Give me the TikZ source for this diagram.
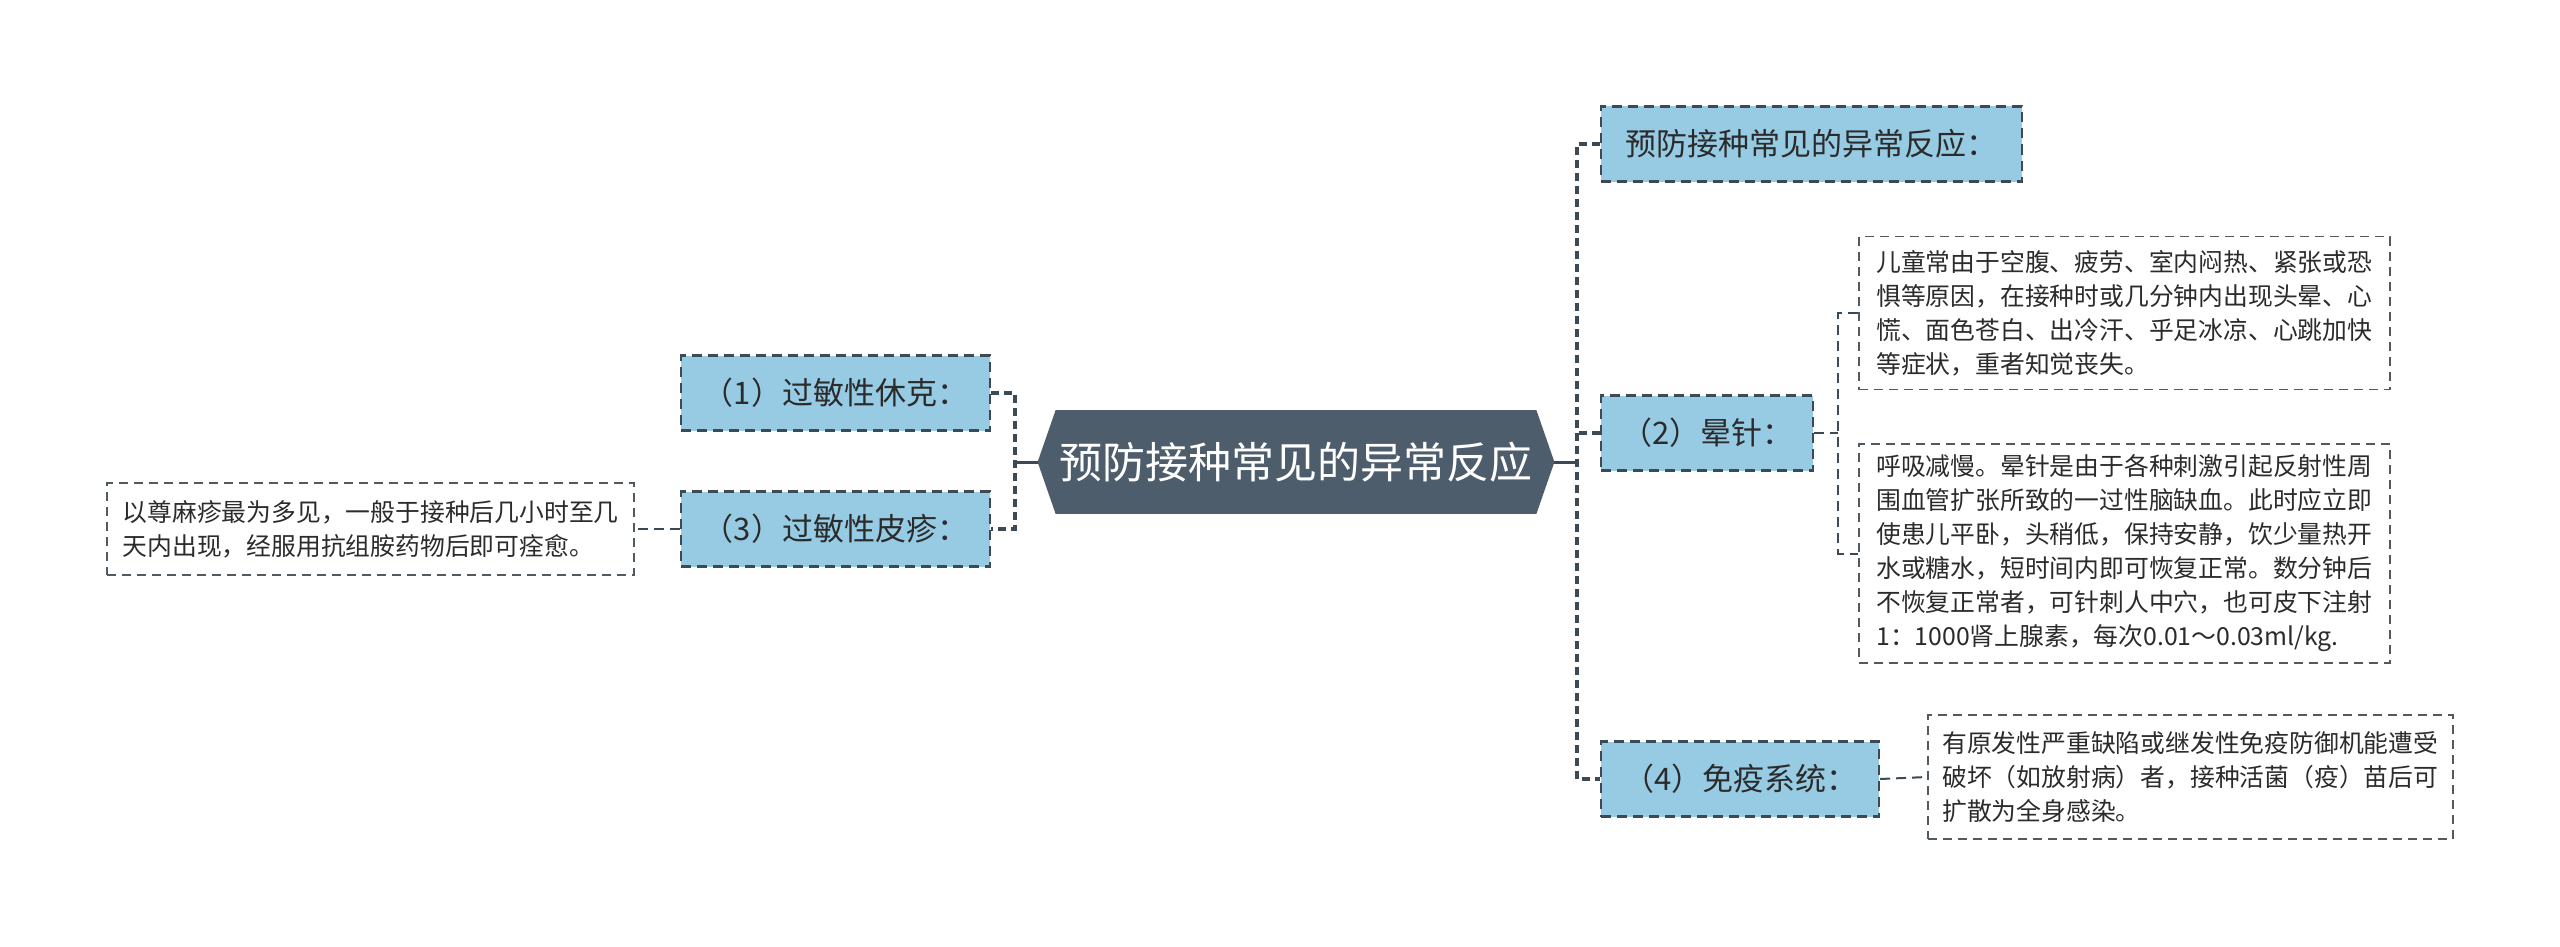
\documentclass[tikz,border=0pt]{standalone}
\usepackage{fontspec}
\setmainfont{Noto Sans CJK SC}
\usetikzlibrary{calc,backgrounds}
\definecolor{hexfill}{HTML}{4D5D6B}
\definecolor{boxfill}{HTML}{96CBE3}
\definecolor{edgec}{HTML}{3C4A56}
\definecolor{leafedge}{HTML}{505A63}
\definecolor{txt}{HTML}{2B2B2B}
\begin{document}
\begin{tikzpicture}[x=0.5pt,y=-0.5pt,
 mid/.style={draw=edgec, line width=1.1pt, dash pattern=on 5pt off 3pt, fill=boxfill,
   font=\fontsize{15.5pt}{19pt}\selectfont, text=txt, inner sep=0pt, minimum height=37.5pt},
 leaf/.style={draw=leafedge, line width=0.8pt, dash pattern=on 4.5pt off 3pt, align=left,
   font=\fontsize{12.4pt}{17pt}\selectfont, inner sep=0pt, text=txt},
 trunk/.style={draw=edgec, line width=1.7pt, dash pattern=on 4pt off 2.5pt},
 twig/.style={draw=edgec, line width=1pt, dash pattern=on 5pt off 3pt},
 solidlink/.style={draw=edgec, line width=1.5pt}]
\useasboundingbox (0,0) rectangle (2560,947);

% root
\node[minimum width=258pt, minimum height=51.5pt, inner sep=0pt, text=white,
  font=\fontsize{21.5pt}{26pt}\selectfont] (root) at (1296,462) {预防接种常见的异常反应};
\begin{scope}[on background layer]
\fill[hexfill] (root.west) -- ($(root.north west)+(18,0)$) -- ($(root.north east)+(-18,0)$)
  -- (root.east) -- ($(root.south east)+(-18,0)$) -- ($(root.south west)+(18,0)$) -- cycle;
\end{scope}

% left branch
\node[mid, anchor=east, minimum width=154.5pt] (b1) at (991,393) {（1）过敏性休克：};
\node[mid, anchor=east, minimum width=154.5pt] (b3) at (991,529) {（3）过敏性皮疹：};
\node[leaf, anchor=east, minimum width=263.5pt, minimum height=46pt] (l3) at (635,529)
 {以尊麻疹最为多见，一般于接种后几小时至几\\天内出现，经服用抗组胺药物后即可痊愈。};

% right branch
\node[mid, anchor=west, minimum width=210.5pt] (bA) at (1600,144) {预防接种常见的异常反应：};
\node[mid, anchor=west, minimum width=106pt] (b2) at (1600,433) {（2）晕针：};
\node[mid, anchor=west, minimum width=139pt] (b4) at (1600,779) {（4）免疫系统：};

\node[leaf, anchor=west, minimum width=265.5pt, minimum height=76.5pt] (l21) at (1858,313)
 {儿童常由于空腹、疲劳、室内闷热、紧张或恐\\惧等原因，在接种时或几分钟内出现头晕、心\\慌、面色苍白、出冷汗、乎足冰凉、心跳加快\\等症状，重者知觉丧失。};
\node[leaf, anchor=west, minimum width=265.5pt, minimum height=109.5pt] (l22) at (1858,553.5)
 {呼吸减慢。晕针是由于各种刺激引起反射性周\\围血管扩张所致的一过性脑缺血。此时应立即\\使患儿平卧，头稍低，保持安静，饮少量热开\\水或糖水，短时间内即可恢复正常。数分钟后\\不恢复正常者，可针刺人中穴，也可皮下注射\\1：1000肾上腺素，每次0.01～0.03ml/kg.};
\node[leaf, anchor=west, minimum width=262.5pt, minimum height=62pt] (l4) at (1927,777)
 {有原发性严重缺陷或继发性免疫防御机能遭受\\破坏（如放射病）者，接种活菌（疫）苗后可\\扩散为全身感染。};

% junctions
\coordinate (lj) at (1015,462);
\coordinate (rj) at (1577,462);
\coordinate (sj) at (1838,433);

% connectors
\draw[solidlink] (root.west) -- (lj);
\draw[trunk] (b1.east) -| (lj) |- (b3.east);
\draw[twig] (b3.west) -- (l3.east);

\draw[solidlink] (root.east) -- (rj);
\draw[trunk] (bA.west) -| (rj) |- (b4.west);
\draw[trunk] (b2.west) -- (b2.west -| rj);

\draw[twig] (b2.east) -- (sj);
\draw[twig] (l21.west) -| (sj) |- (l22.west);
\draw[twig] (b4.east) -- (l4.west);
\end{tikzpicture}
\end{document}
